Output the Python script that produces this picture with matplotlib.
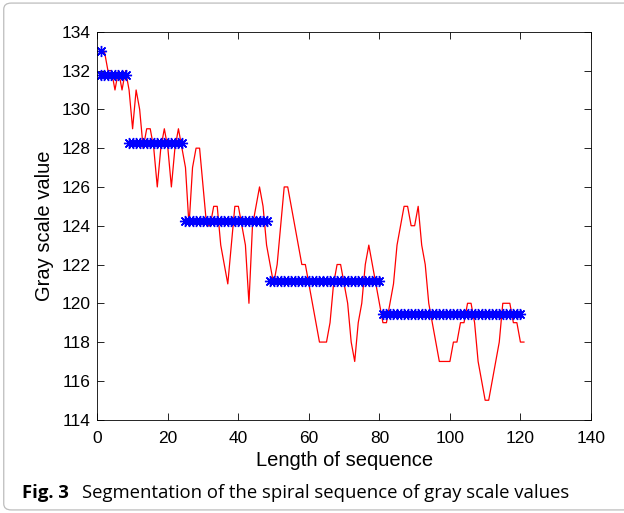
import matplotlib
matplotlib.use("Agg")
import matplotlib.pyplot as plt
from matplotlib.patches import FancyBboxPatch
import numpy as np

# red line: gray values along the spiral sequence
gray_values = [133, 133, 132, 132, 131, 132, 131, 132, 131, 129,
               131, 130, 128, 129, 129, 128, 126, 128, 129, 128,
               126, 128, 129, 128, 127, 124, 127, 128, 128, 126,
               124, 124, 125, 125, 123, 122, 121, 123, 125, 125,
               124, 123, 120, 124, 125, 126, 125, 123, 122, 121,
               122, 124, 126, 126, 125, 124, 123, 122, 122, 121,
               120, 119, 118, 118, 118, 119, 121, 122, 122, 121,
               120, 118, 117, 119, 120, 122, 123, 122, 121, 120,
               119, 119, 120, 121, 123, 124, 125, 125, 124, 124,
               125, 123, 122, 120, 119, 118, 117, 117, 117, 117,
               118, 118, 119, 119, 120, 120, 119, 117, 116, 115,
               115, 116, 117, 118, 120, 120, 120, 119, 119, 118,
               118]

# blue: segment means
seg_start = [1, 1, 9, 25, 49, 81]
seg_end = [1, 8, 24, 48, 80, 120]
seg_level = [133.0, 131.77, 128.28, 124.26, 121.15, 119.45]

x_ticks = [0, 20, 40, 60, 80, 100, 120, 140]
y_ticks = [114, 116, 118, 120, 122, 124, 126, 128, 130, 132, 134]

plt.rcParams['font.family'] = ['Liberation Sans', 'DejaVu Sans']

fig = plt.figure(figsize=(6.24, 5.13), dpi=100)

# light frame around the figure
frame = FancyBboxPatch((0.006, 0.006), 1.1, 0.988, boxstyle="round,pad=0,rounding_size=0.012",
                       transform=fig.transFigure, fill=False, edgecolor='#bdbdbd', linewidth=0.9)
fig.patches.append(frame)

ax = fig.add_axes([0.156, 0.182, 0.791, 0.756])

x = np.arange(1, len(gray_values) + 1)
ax.plot(x, gray_values, color='red', linewidth=0.9)

for s, e, lv in zip(seg_start, seg_end, seg_level):
    xs = np.arange(s, e + 1)
    ax.plot(xs, np.full(len(xs), lv), linestyle='none', marker=(8, 2, 0),
            markersize=8, markeredgewidth=1.0, color='blue')

ax.set_xlim(0, 140)
ax.set_ylim(114, 134)
ax.set_xticks(x_ticks)
ax.set_yticks(y_ticks)
ax.tick_params(direction='in', top=True, right=True, length=5, width=0.6,
               labelsize=12.5, pad=5)
ax.tick_params(axis='x', pad=8)
for sp in ax.spines.values():
    sp.set_linewidth(0.6)

ax.set_xlabel('Length of sequence', fontsize=14.5, labelpad=4)
ax.set_ylabel('Gray scale value', fontsize=14.5, labelpad=5)

fig.text(0.035, 0.03, 'Fig. 3', fontsize=13.3, fontweight='bold', family=['Open Sans', 'DejaVu Sans'])
fig.text(0.131, 0.03, 'Segmentation of the spiral sequence of gray scale values', fontsize=13.3,
         family=['Open Sans', 'DejaVu Sans'])

fig.savefig('out.png', dpi=100)
